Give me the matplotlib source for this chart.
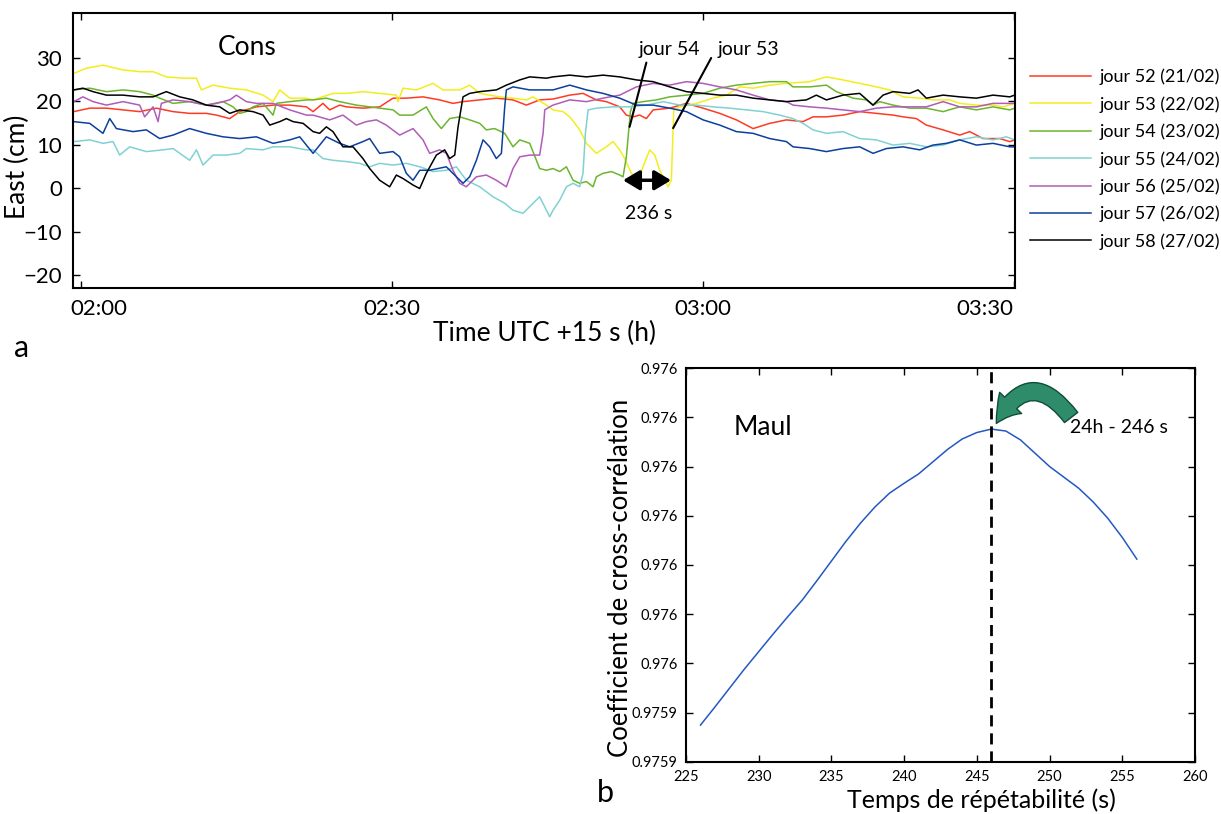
import matplotlib.pyplot as plt
from matplotlib.patches import FancyArrowPatch
from matplotlib.transforms import ScaledTranslation

plt.rcParams['font.family'] = ['Lato', 'DejaVu Sans']

# East component, minutes after 02:00 UTC (+15 s) -> cm
t52 = [-0.7, 0.84, 2.45, 4.05, 5.66, 7.27, 8.88, 10.48, 12.09, 13.06, 14.34, 15.31, 16.91, 18.52, 20.13, 21.74, 22.38,
       23.33, 23.98, 24.94, 25.59, 27.19, 28.80, 30.09, 31.37, 32.98, 34.59, 35.87, 36.84, 38.45, 40.05, 41.66, 42.95,
       44.23, 45.52, 47.13, 48.41, 49.70, 50.66, 51.95, 52.59, 53.24, 53.88, 54.52, 55.17, 56.77, 58.38, 59.99, 61.60,
       63.20, 64.81, 66.42, 68.03, 69.62, 70.59, 71.88, 73.48, 75.09, 76.70, 78.31, 79.27, 80.56, 81.52, 83.13, 84.74,
       85.70, 86.99, 88.60, 89.56, 90.04]
e52 = [17.6, 18.4, 18.4, 18.0, 17.6, 18.4, 17.6, 17.2, 17.2, 16.8, 16.0, 17.6, 18.7, 19.1, 19.1, 18.7, 17.6,
       19.5, 18.0, 19.1, 18.7, 18.4, 18.7, 20.7, 20.7, 21.0, 20.3, 19.5, 19.9, 20.3, 20.7, 20.3, 19.1,
       20.3, 20.5, 21.4, 21.8, 20.3, 19.9, 18.7, 16.8, 16.4, 16.8, 16.0, 18.0, 18.4, 19.5, 18.4, 17.2,
       15.7, 13.7, 14.9, 15.7, 15.3, 16.4, 16.4, 16.8, 17.6, 17.2, 16.8, 16.4, 16.0, 14.5, 13.4, 12.2,
       13.0, 11.4, 11.4, 10.7, 11.1]

t53 = [-0.7, 0.52, 2.12, 4.05, 5.66, 6.95, 8.23, 9.84, 11.13, 11.61, 12.73, 14.34, 15.95, 17.56, 18.52, 19.17, 20.13,
       21.74, 22.38, 24.30, 25.59, 27.19, 28.80, 30.41, 30.57, 31.05, 32.34, 33.95, 34.91, 36.52, 37.48, 38.45, 40.38,
       41.66, 42.95, 43.59, 44.88, 45.52, 46.48, 47.13, 48.09, 48.74, 49.70, 50.66, 51.31, 51.95, 52.43, 53.08, 53.72,
       54.20, 54.84, 55.33, 55.81, 56.61, 56.93, 57.10, 57.16, 57.74, 59.35, 60.95, 62.24, 63.53, 64.81, 66.42, 68.03,
       70.27, 71.88, 73.48, 75.09, 76.70, 77.98, 79.27, 80.88, 82.16, 83.77, 84.74, 86.34, 87.95, 88.92, 90.04]
e53 = [26.4, 27.6, 28.3, 27.2, 26.8, 26.8, 25.6, 25.3, 25.3, 22.6, 23.7, 23.0, 22.6, 21.4, 19.9, 22.6, 20.7,
       20.7, 20.3, 21.8, 21.8, 22.2, 21.8, 21.4, 19.9, 23.0, 22.6, 24.1, 22.6, 22.6, 23.7, 21.8, 21.0,
       20.7, 20.3, 21.0, 19.1, 18.0, 17.6, 16.4, 13.4, 10.3, 8.0, 9.5, 10.7, 8.8, 6.8, 3.4, 1.8,
       4.9, 8.8, 7.6, 4.1, 0.3, 1.8, 13.7, 18.0, 18.7, 19.5, 20.7, 21.4, 23.3, 23.0, 23.7, 24.1,
       24.5, 25.6, 24.9, 24.1, 23.3, 22.6, 21.0, 20.7, 20.3, 20.3, 19.5, 19.1, 19.1, 18.7, 19.5]

t54 = [-0.7, 0.84, 2.45, 4.05, 5.66, 6.95, 7.59, 8.88, 10.48, 12.09, 13.70, 14.66, 15.31, 15.95, 16.59, 17.56, 18.52,
       18.84, 20.13, 21.74, 22.38, 23.66, 24.94, 26.55, 28.80, 30.09, 30.73, 32.02, 33.30, 33.95, 34.75, 35.55, 36.52,
       37.48, 38.45, 39.09, 39.89, 40.86, 41.66, 42.31, 43.27, 44.23, 44.88, 45.52, 46.16, 46.81, 47.45, 48.09, 48.74,
       49.38, 49.70, 50.34, 51.15, 51.95, 52.27, 52.59, 52.85, 52.98, 53.24, 54.20, 55.49, 56.77, 58.38, 59.99, 61.60,
       63.20, 64.81, 66.42, 68.03, 68.66, 70.27, 71.88, 72.84, 74.45, 75.73, 76.38, 77.02, 78.31, 79.91, 81.52, 83.13,
       84.74, 86.34, 87.95, 89.56, 90.04]
e54 = [22.6, 23.0, 22.2, 22.6, 22.2, 21.4, 20.7, 19.5, 19.9, 19.1, 19.9, 18.7, 17.2, 17.6, 18.7, 19.5, 16.8,
       19.5, 19.9, 20.3, 20.3, 20.7, 19.9, 19.1, 18.4, 18.0, 16.8, 16.8, 18.7, 16.0, 13.7, 16.0, 16.4,
       15.7, 14.9, 13.4, 13.7, 12.6, 9.5, 11.1, 10.3, 4.5, 4.1, 4.5, 3.8, 4.9, 1.8, 1.1, 1.5,
       0.3, 2.6, 3.4, 3.8, 3.0, 2.6, 7.2, 14.1, 17.6, 19.5, 19.9, 20.3, 21.0, 21.4, 21.8, 23.0,
       23.7, 24.1, 24.5, 24.5, 23.3, 23.3, 23.7, 22.2, 20.7, 20.3, 19.1, 19.9, 19.1, 18.4, 18.4, 17.6,
       18.7, 18.0, 18.7, 18.0, 18.4]

t55 = [-0.7, 0.84, 2.12, 3.09, 3.73, 4.70, 6.30, 7.91, 8.88, 10.48, 11.13, 11.77, 12.73, 14.02, 15.31, 15.95, 17.56,
       18.52, 20.13, 21.74, 22.38, 23.33, 24.30, 25.59, 26.87, 27.84, 28.80, 30.09, 31.37, 32.66, 33.95, 35.23, 36.20,
       37.16, 38.45, 39.73, 40.86, 41.66, 42.63, 43.59, 44.23, 44.88, 45.20, 45.52, 46.16, 46.81, 47.45, 48.09, 48.41,
       48.64, 48.90, 49.70, 51.31, 52.92, 54.52, 56.13, 57.74, 59.35, 60.95, 62.56, 64.17, 65.78, 67.38, 68.66, 69.62,
       70.59, 71.88, 73.48, 75.09, 76.70, 78.31, 79.91, 81.52, 83.13, 84.74, 86.34, 87.95, 89.24, 90.04]
e55 = [10.7, 11.1, 10.3, 10.7, 7.6, 9.5, 8.4, 8.8, 9.1, 6.4, 8.8, 5.3, 7.6, 7.6, 8.0, 9.1, 8.8,
       9.5, 9.5, 8.8, 8.8, 6.8, 6.4, 6.1, 5.7, 4.9, 5.7, 5.3, 5.7, 4.9, 3.8, 4.1, 4.9,
       1.8, 0.3, -2.0, -3.5, -5.1, -5.8, -3.5, -2.0, -5.1, -6.6, -5.1, -2.8, 0.3, 1.1, 0.3, 3.4,
       12.6, 18.0, 18.4, 18.7, 18.7, 19.1, 19.9, 19.1, 19.1, 18.7, 18.4, 18.0, 17.6, 16.8, 16.0, 14.9,
       13.4, 12.6, 13.0, 11.4, 11.1, 9.9, 10.3, 9.5, 9.9, 11.1, 11.8, 11.1, 11.8, 11.1]

t56 = [-0.7, 0.19, 1.16, 2.45, 4.05, 5.66, 6.14, 6.95, 7.43, 7.75, 8.88, 10.48, 12.09, 13.06, 14.34, 14.98, 15.95,
       16.91, 18.52, 20.13, 21.74, 22.38, 23.98, 25.26, 26.55, 27.51, 28.48, 29.44, 30.73, 32.02, 32.98, 33.62, 34.59,
       35.23, 35.87, 36.52, 37.16, 38.13, 39.09, 40.05, 41.02, 41.66, 42.31, 43.27, 44.23, 44.56, 44.72, 45.20, 45.52,
       47.13, 48.74, 50.34, 51.95, 53.56, 55.17, 56.77, 58.38, 59.99, 61.60, 63.20, 64.81, 66.42, 68.03, 68.66, 70.27,
       71.88, 73.48, 75.09, 76.70, 78.31, 79.91, 81.52, 83.13, 84.74, 86.34, 87.95, 89.56, 90.04]
e56 = [19.9, 21.0, 19.9, 19.1, 19.9, 19.1, 16.4, 18.7, 15.3, 19.5, 20.3, 19.9, 19.1, 19.5, 20.3, 21.4, 19.9,
       19.5, 19.5, 18.0, 16.8, 16.8, 15.7, 16.8, 14.5, 15.3, 15.7, 14.5, 12.2, 13.7, 11.1, 8.0, 8.8,
       8.0, 4.1, 1.1, 0.3, 2.6, 3.0, 1.8, 0.3, 4.5, 7.2, 7.6, 7.6, 12.6, 18.0, 18.7, 19.1,
       20.3, 19.9, 20.7, 21.4, 23.3, 24.1, 23.7, 24.5, 24.1, 23.3, 22.6, 21.4, 20.3, 19.9, 19.1, 18.7,
       18.4, 18.0, 17.6, 18.4, 18.7, 18.7, 18.7, 19.9, 18.7, 18.7, 19.5, 19.5, 19.5]

t57 = [-0.7, 0.84, 2.12, 2.77, 3.41, 5.02, 6.30, 7.59, 8.88, 10.48, 12.09, 13.70, 15.31, 16.91, 18.52, 20.13, 21.09,
       22.38, 23.66, 24.94, 25.91, 27.19, 27.84, 28.80, 30.09, 30.73, 31.37, 32.02, 32.66, 33.62, 35.23, 36.20, 36.84,
       37.48, 38.13, 38.77, 39.41, 40.05, 40.54, 40.86, 41.02, 41.66, 43.27, 44.88, 45.52, 47.13, 48.74, 50.34, 51.95,
       53.56, 55.17, 56.77, 58.38, 59.99, 61.60, 63.20, 64.81, 66.42, 68.03, 68.66, 70.27, 71.88, 73.48, 75.09, 76.38,
       77.66, 79.27, 80.88, 82.16, 83.45, 84.74, 86.34, 87.95, 89.56, 90.04]
e57 = [15.3, 14.9, 12.6, 16.0, 13.7, 13.0, 13.4, 11.4, 12.2, 13.7, 12.6, 11.8, 11.4, 11.8, 10.3, 11.1, 11.8,
       8.0, 11.8, 10.3, 9.5, 10.7, 11.4, 8.0, 8.4, 7.2, 3.4, 1.8, 4.1, 4.1, 4.9, 2.6, 1.1,
       2.6, 6.4, 11.1, 9.5, 6.8, 8.0, 18.7, 22.6, 23.3, 22.6, 22.6, 22.6, 23.7, 22.6, 21.8, 20.7,
       19.1, 19.1, 18.4, 17.6, 15.7, 14.5, 13.0, 12.6, 11.4, 10.7, 9.5, 9.1, 8.4, 9.1, 9.5, 8.0,
       9.1, 9.5, 8.8, 9.9, 10.3, 11.1, 9.9, 10.3, 9.5, 9.5]

t58 = [-0.7, 0.19, 1.16, 2.45, 4.05, 5.66, 6.95, 8.23, 9.52, 10.80, 12.09, 13.38, 14.34, 15.31, 16.59, 17.56, 18.20,
       19.17, 19.81, 20.45, 21.42, 22.38, 23.01, 23.66, 24.30, 25.26, 26.23, 27.19, 27.84, 28.80, 29.77, 30.41, 31.05,
       32.02, 32.66, 33.30, 34.27, 35.07, 35.55, 36.04, 36.36, 36.84, 37.48, 38.45, 40.05, 41.02, 42.31, 43.27, 44.88,
       45.52, 47.13, 48.74, 50.34, 51.95, 53.56, 55.17, 56.77, 58.38, 59.99, 61.60, 63.20, 64.81, 66.42, 68.03, 69.95,
       70.91, 71.88, 73.48, 75.09, 76.38, 77.34, 78.31, 79.91, 80.72, 81.52, 83.13, 84.74, 86.34, 87.95, 89.56, 90.04]
e58 = [22.6, 23.0, 22.2, 21.4, 21.4, 21.0, 21.0, 22.2, 21.0, 20.3, 19.1, 18.7, 17.2, 18.0, 17.6, 16.8, 14.5,
       15.3, 16.0, 15.3, 14.9, 13.0, 12.6, 14.1, 13.0, 9.5, 9.5, 6.8, 4.5, 1.8, 0.3, 3.0, 2.2,
       0.7, -0.1, 3.4, 7.6, 8.8, 6.8, 7.6, 14.1, 21.0, 21.8, 22.2, 22.6, 23.7, 24.9, 25.6, 25.3,
       25.6, 26.0, 25.6, 26.0, 25.6, 24.9, 24.5, 23.3, 22.2, 21.8, 21.4, 21.4, 20.7, 20.3, 19.9, 20.3,
       21.4, 20.3, 21.4, 21.8, 19.1, 21.4, 22.2, 21.8, 22.6, 20.7, 21.4, 21.0, 20.7, 21.4, 21.0, 21.4]

days = ['jour 52 (21/02)', 'jour 53 (22/02)', 'jour 54 (23/02)', 'jour 55 (24/02)',
        'jour 56 (25/02)', 'jour 57 (26/02)', 'jour 58 (27/02)']
colors = ['#ff3a24', '#f2ee1e', '#6cb52e', '#80d2d2', '#b05cb8', '#0c3f9e', 'black']
time_ticks = [0, 30, 60, 90]
time_labels = ['02:00', '02:30', '03:00', '03:30']

# cross-correlation vs repeat time (Maul)
lag = [226, 227, 228, 229, 230, 231, 232, 233, 234, 235, 236, 237, 238, 239, 240, 241,
       242, 243, 244, 245, 246, 247, 248, 249, 250, 251, 252, 253, 254, 255, 256]
corr = [0.9758950, 0.9759024, 0.9759100, 0.9759176, 0.9759248, 0.9759320, 0.9759390, 0.9759458,
        0.9759536, 0.9759616, 0.9759696, 0.9759770, 0.9759836, 0.9759892, 0.9759932, 0.9759970,
        0.9760020, 0.9760070, 0.9760112, 0.9760138, 0.9760152, 0.9760144, 0.9760108, 0.9760054,
        0.9760000, 0.9759956, 0.9759912, 0.9759856, 0.9759790, 0.9759712, 0.9759624]
peak_lag = 246
corr_ticks = [0.97588, 0.97590, 0.97592, 0.97594, 0.97596, 0.97598, 0.97600, 0.97602, 0.97604]
corr_labels = ['0.9759', '0.9759', '0.976', '0.976', '0.976', '0.976', '0.976', '0.976', '0.976']

fig = plt.figure(figsize=(12.21, 8.14), dpi=100)

# ---- panel a ----
ax = fig.add_axes([0.0598, 0.6462, 0.7715, 0.3378])
series = [(t52, e52), (t53, e53), (t54, e54), (t55, e55), (t56, e56), (t57, e57), (t58, e58)]
for (t, e), lab, c in zip(series, days, colors):
    ax.plot(t, e, color=c, lw=1.1, label=lab)
ax.set_xlim(-0.77, 90.07)
ax.set_ylim(-23, 40.3)
ax.set_yticks([-20, -10, 0, 10, 20, 30])
ax.set_xticks(time_ticks)
ax.set_xticklabels(time_labels)
ax.tick_params(direction='in', length=5, width=1, labelsize=16, top=True, right=True, pad=8)
for s in ax.spines.values():
    s.set_linewidth(1.5)
# keep the end labels inside the frame
xl = ax.get_xticklabels()
xl[0].set_transform(xl[0].get_transform() + ScaledTranslation(0.18, 0, fig.dpi_scale_trans))
xl[-1].set_transform(xl[-1].get_transform() + ScaledTranslation(-0.29, 0, fig.dpi_scale_trans))
ax.set_xlabel('Time UTC +15 s (h)', fontsize=19, labelpad=1)
ax.set_ylabel('East (cm)', fontsize=19)
ax.yaxis.set_label_coords(-0.046, 0.44)
ax.text(16.0, 32.3, 'Cons', fontsize=19, ha='center', va='center')

ax.annotate('jour 54', xy=(52.9, 14.1), xytext=(56.7, 31.8), fontsize=14, ha='center', va='center',
            arrowprops=dict(arrowstyle='-', lw=1.5, color='k', relpos=(0.15, 0.0), shrinkA=1, shrinkB=0))
ax.annotate('jour 53', xy=(57.1, 13.8), xytext=(64.4, 31.8), fontsize=14, ha='center', va='center',
            arrowprops=dict(arrowstyle='-', lw=1.5, color='k', relpos=(-0.1, 0.1), shrinkA=1, shrinkB=0))
ax.annotate('', xy=(52.27, 1.8), xytext=(56.9, 1.8),
            arrowprops=dict(arrowstyle='<|-|>,head_length=0.5,head_width=0.3', lw=2.5, color='k',
                            mutation_scale=20, shrinkA=0, shrinkB=0))
ax.text(54.7, -5.8, '236 s', fontsize=14, ha='center', va='center')

ax.legend(loc='upper left', bbox_to_anchor=(1.016, 0.797), frameon=False, fontsize=13,
          handlelength=3.4, handletextpad=0.45, labelspacing=0.6, borderaxespad=0, borderpad=0)

# ---- panel b ----
bx = fig.add_axes([0.5618, 0.0639, 0.4169, 0.4840])
bx.plot(lag, corr, color='#2458c2', lw=1.1)
bx.axvline(peak_lag, color='k', lw=2, ls=(0, (4, 2.5)))
bx.set_xlim(225, 260)
bx.set_ylim(corr_ticks[0], corr_ticks[-1])
bx.set_xticks([225, 230, 235, 240, 245, 250, 255, 260])
bx.set_yticks(corr_ticks)
bx.set_yticklabels(corr_labels)
bx.tick_params(direction='in', length=5, width=1, labelsize=10.5, top=True, right=True, pad=6)
for s in bx.spines.values():
    s.set_linewidth(1.5)
bx.set_xlabel('Temps de répétabilité (s)', fontsize=18)
bx.set_ylabel('Coefficient de cross-corrélation', fontsize=18.5)
bx.xaxis.set_label_coords(0.58, -0.068)
bx.yaxis.set_label_coords(-0.105, 0.468)
bx.text(230.3, 0.9760160, 'Maul', fontsize=19, ha='center', va='center')
bx.text(251.4, 0.9760157, '24h - 246 s', fontsize=14, ha='left', va='center')
bx.add_patch(FancyArrowPatch((251.6, 0.9760190), (246.25, 0.9760165),
                             arrowstyle='simple,head_length=0.9,head_width=1.1,tail_width=0.6',
                             mutation_scale=20, connectionstyle='arc3,rad=0.8',
                             facecolor='#2e8c6a', edgecolor='#0d4d3a', lw=1))

fig.text(0.018, 0.572, 'a', fontsize=22, ha='center', va='center')
fig.text(0.4955, 0.026, 'b', fontsize=22, ha='center', va='center')

fig.savefig('out.png', dpi=100)
